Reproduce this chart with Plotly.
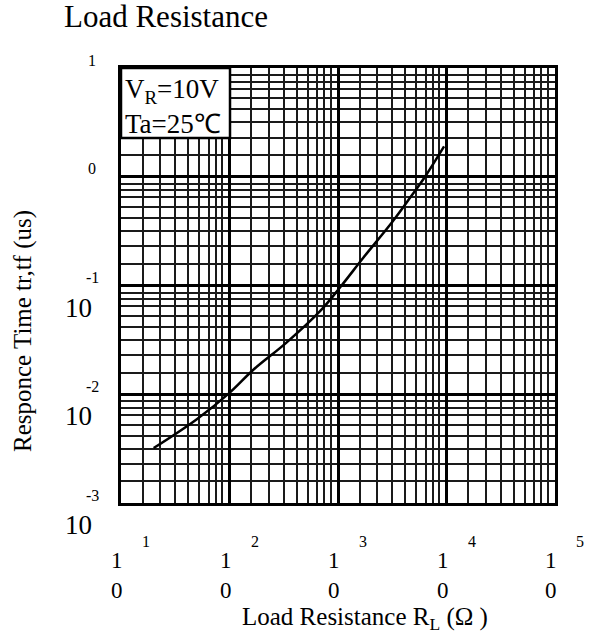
import plotly.graph_objects as go

# ---- data ----
resistance_ohm = [20, 50, 100, 166, 337, 683, 1070, 1710, 3200, 4610, 6340, 9500]
response_us = [0.0032, 0.0059, 0.0103, 0.0168, 0.030, 0.058, 0.099, 0.18, 0.39, 0.64, 1.0, 1.9]

x_exponents = ["1", "2", "3", "4", "5"]
y_exponents = ["1", "0", "-1", "-2", "-3"]
y_show_base = [False, False, True, True, True]
minor_fracs = [0.2, 0.36, 0.5, 0.62, 0.72, 0.81, 0.875, 0.935]

W, H = 597, 639
L, R, T, B = 121, 42, 68, 136
PW, PH = W - L - R, H - T - B


def px(xp):
    return (xp - L) / PW


def py(yp):
    return (H - B - yp) / PH


FONT = "Liberation Serif, Times New Roman, serif"

x_minor = [10 ** (d + f) for d in range(1, 5) for f in minor_fracs]
y_minor = [10 ** (d + f) for d in range(-3, 1) for f in minor_fracs]

fig = go.Figure()
fig.add_trace(go.Scatter(
    x=resistance_ohm, y=response_us, mode="lines",
    line=dict(color="black", width=2.5, shape="spline", smoothing=1.0),
    showlegend=False, hoverinfo="skip"))

axis_common = dict(
    type="log", showticklabels=False, ticks="",
    showgrid=True, gridcolor="black", gridwidth=2.5,
    showline=True, linecolor="black", linewidth=3, mirror=True,
    zeroline=False, fixedrange=True,
)
fig.update_xaxes(range=[1, 5], dtick=1,
                 minor=dict(tickvals=x_minor, showgrid=True, gridcolor="#1a1a1a", gridwidth=1.6, ticks=""),
                 **axis_common)
fig.update_yaxes(range=[-3, 1], dtick=1,
                 minor=dict(tickvals=y_minor, showgrid=True, gridcolor="#1a1a1a", gridwidth=1.6, ticks=""),
                 **axis_common)

ann = []
# x tick labels: broken "1 / 0" with exponent (log axis -> annotation x in log10 units)
for i, e in enumerate(x_exponents):
    xv = i + 1
    ann.append(dict(x=xv, xref="x", xanchor="center", y=py(575), yref="paper", text="1<br>0",
                    showarrow=False, xshift=-4, align="center",
                    font=dict(family=FONT, size=23, color="black"), yanchor="middle"))
    ann.append(dict(x=xv, xref="x", xanchor="center", y=py(541), yref="paper", text=e, showarrow=False,
                    xshift=25, font=dict(family=FONT, size=16, color="black"), yanchor="middle"))
# y tick labels
for i, e in enumerate(y_exponents):
    yv = 1 - i
    ann.append(dict(x=px(92), xref="paper", xanchor="center", y=yv, yref="y", text=e, showarrow=False,
                    yshift=8, font=dict(family=FONT, size=16, color="black"), yanchor="middle"))
    if y_show_base[i]:
        ann.append(dict(x=px(78), xref="paper", xanchor="center", y=yv, yref="y", text="10", showarrow=False,
                        yshift=-22, font=dict(family=FONT, size=27, color="black"), yanchor="middle"))

# titles
ann.append(dict(x=px(62), xref="paper", xanchor="left", y=py(17), yref="paper", yanchor="middle",
                text="Load Resistance", showarrow=False,
                font=dict(family=FONT, size=31, color="black")))
ann.append(dict(x=px(365), xref="paper", xanchor="center", y=py(618), yref="paper", yanchor="middle",
                text="Load Resistance R<sub>L</sub> (Ω )", showarrow=False,
                font=dict(family=FONT, size=25, color="black")))
ann.append(dict(x=px(23), xref="paper", xanchor="center", y=py(331), yref="paper", yanchor="middle",
                text="Responce Time tr,tf (us)", showarrow=False, textangle=-90,
                font=dict(family=FONT, size=25, color="black")))
# condition box text
ann.append(dict(x=px(123), xref="paper", xanchor="left", y=py(107), yref="paper", yanchor="middle",
                text="V<sub>R</sub>=10V<br>Ta=25℃", showarrow=False, align="left",
                font=dict(family=FONT, size=27, color="black")))

shapes = [dict(type="rect", xref="paper", yref="paper", x0=0, x1=px(230), y0=py(138), y1=1,
               fillcolor="white", line=dict(color="black", width=2.5), layer="above")]

fig.update_layout(
    width=W, height=H, margin=dict(l=L, r=R, t=T, b=B, pad=0),
    paper_bgcolor="white", plot_bgcolor="white",
    annotations=ann, shapes=shapes, showlegend=False,
)
fig.write_html("out.html")
